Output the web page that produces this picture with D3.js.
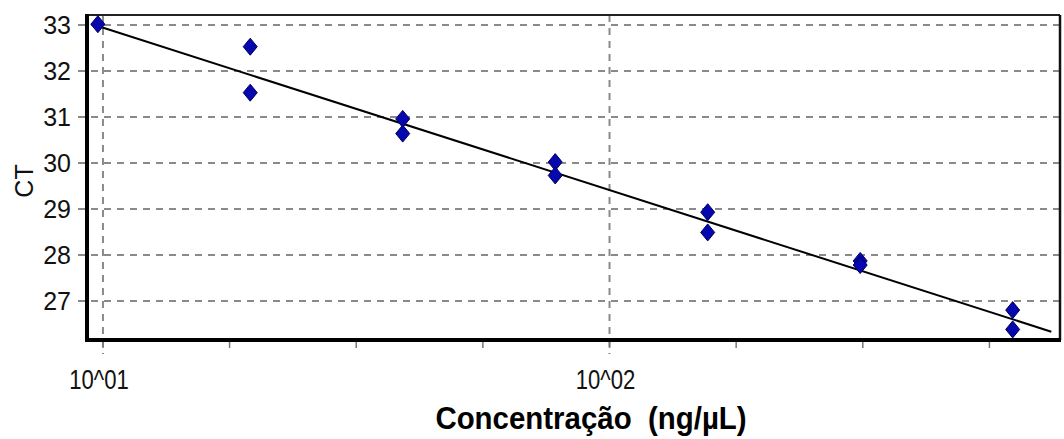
<!DOCTYPE html>
<style>
body { margin: 0; padding: 0; background: #fff; }
text { font-family: "Liberation Sans", Arial, sans-serif; }
</style>
<svg width="1064" height="439"></svg>
<script src="https://d3js.org/d3.v7.min.js"></script>
<script>

// concentration (ng/uL) for each replicate, and its CT
var conc = [9.77, 19.53, 19.53, 39.06, 39.06, 78.13, 78.13, 156.25, 156.25, 312.5, 312.5, 625, 625];
var ct   = [33.02, 32.53, 31.53, 30.96, 30.64, 30.02, 29.73, 28.93, 28.49, 27.87, 27.78, 26.80, 26.38];

// standard curve end points
var fitConc = [9.77, 745];
var fitCt   = [32.98, 26.33];

var yTicks = [27, 28, 29, 30, 31, 32, 33];
var xTicks = [10, 17.78, 31.62, 56.23, 100, 177.83, 316.23, 562.34];
var xTickLabels = ["10^01", "", "", "", "10^02", "", "", ""];
var xGrid = [10, 100];

var svg = d3.select("svg"),
    pLeft = 87, pRight = 1060, pTop = 15, pBottom = 340;

var x = d3.scaleLog().domain([9.3, 775]).range([pLeft, pRight]);
var y = d3.scaleLinear().domain([26.15, 33.22]).range([pBottom, pTop]);

svg.append("rect").attr("width", 1064).attr("height", 439).attr("fill", "#fff");

// horizontal grid, extends left as tick
svg.append("g").selectAll("line")
  .data(yTicks)
  .enter().append("line")
    .attr("x1", pLeft - 9).attr("x2", pRight)
    .attr("y1", function(d) { return y(d); })
    .attr("y2", function(d) { return y(d); })
    .attr("stroke", "#8a8a8a")
    .attr("stroke-width", 2)
    .attr("stroke-dasharray", "7,6");

// vertical grid at decades, extends below axis
svg.append("g").selectAll("line")
  .data(xGrid)
  .enter().append("line")
    .attr("x1", function(d) { return x(d); })
    .attr("x2", function(d) { return x(d); })
    .attr("y1", pTop).attr("y2", pBottom + 14)
    .attr("stroke", "#8a8a8a")
    .attr("stroke-width", 2)
    .attr("stroke-dasharray", "7,6");

// minor x ticks
svg.append("g").selectAll("line")
  .data(xTicks)
  .enter().append("line")
    .attr("x1", function(d) { return x(d); })
    .attr("x2", function(d) { return x(d); })
    .attr("y1", pBottom).attr("y2", pBottom + 8)
    .attr("stroke", "#777")
    .attr("stroke-width", 1.5);

// frame
svg.append("line").attr("x1", pLeft).attr("x2", pRight).attr("y1", pTop).attr("y2", pTop)
  .attr("stroke", "#222").attr("stroke-width", 2);
svg.append("line").attr("x1", pRight).attr("x2", pRight).attr("y1", pTop).attr("y2", pBottom)
  .attr("stroke", "#111").attr("stroke-width", 2.5);
svg.append("line").attr("x1", pLeft).attr("x2", pLeft).attr("y1", pTop - 1).attr("y2", pBottom + 2)
  .attr("stroke", "#000").attr("stroke-width", 4);
svg.append("line").attr("x1", pLeft - 2).attr("x2", pRight + 1).attr("y1", pBottom).attr("y2", pBottom)
  .attr("stroke", "#000").attr("stroke-width", 4);

// y labels
svg.append("g").selectAll("text")
  .data(yTicks)
  .enter().append("text")
    .attr("x", 71)
    .attr("y", function(d) { return y(d); })
    .attr("dy", "0.36em")
    .attr("text-anchor", "end")
    .attr("font-size", 25)
    .attr("fill", "#111")
    .text(function(d) { return d; });

// x labels (a bit tall and narrow in the original)
svg.append("g").selectAll("text")
  .data(xTicks)
  .enter().append("text")
    .attr("transform", function(d) { return "translate(" + (x(d) - 4) + ",389) scale(0.82,1)"; })
    .attr("text-anchor", "middle")
    .attr("font-size", 27)
    .attr("fill", "#111")
    .text(function(d, i) { return xTickLabels[i]; });

svg.append("text")
  .attr("transform", "translate(33,181) rotate(-90)")
  .attr("text-anchor", "middle")
  .attr("font-size", 25)
  .attr("fill", "#111")
  .text("CT");

svg.append("text")
  .attr("transform", "translate(591,429) scale(0.92,1)")
  .attr("text-anchor", "middle")
  .attr("font-size", 32)
  .attr("font-weight", "bold")
  .attr("fill", "#000")
  .style("white-space", "pre")
  .text("Concentração  (ng/µL)");

// fit line
svg.append("line")
  .attr("x1", x(fitConc[0])).attr("y1", y(fitCt[0]))
  .attr("x2", x(fitConc[1])).attr("y2", y(fitCt[1]))
  .attr("stroke", "#000")
  .attr("stroke-width", 2);

// points
svg.append("g").selectAll("path")
  .data(conc)
  .enter().append("path")
    .attr("transform", function(d, i) { return "translate(" + x(d) + "," + y(ct[i]) + ")"; })
    .attr("d", "M0,-8.5L7,0L0,8.5L-7,0Z")
    .attr("fill", "#0707b0")
    .attr("stroke", "#00005a")
    .attr("stroke-width", 1);

</script>
